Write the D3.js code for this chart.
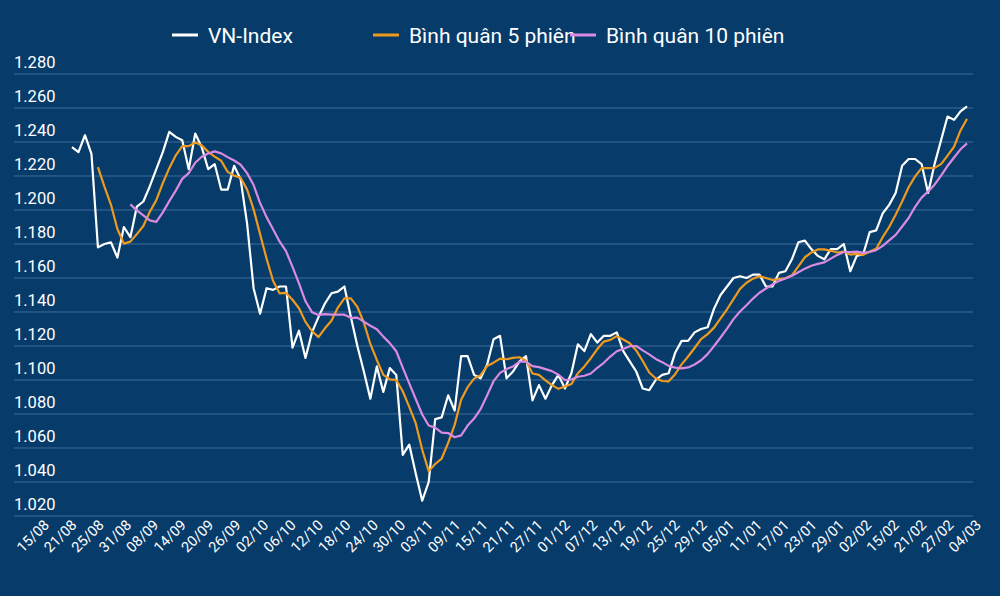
<!DOCTYPE html>
<html>
<head>
<meta charset="utf-8">
<script src="https://cdn.jsdelivr.net/npm/d3@7"></script>
<style>
  body { margin: 0; background: #063b6a; }
  svg { display: block; font-family: Roboto, "Noto Sans", sans-serif; }
</style>
</head>
<body>
<svg id="chart" width="1000" height="596"></svg>
<script>
// VN-Index closing values (one per session)
const vnIndex = [
  1.237, 1.234, 1.244, 1.233, 1.178, 1.180, 1.181, 1.172, 1.190, 1.184,
  1.202, 1.205, 1.214, 1.224, 1.234, 1.246, 1.243, 1.241, 1.224, 1.245,
  1.237, 1.224, 1.227, 1.212, 1.212, 1.226, 1.218, 1.192, 1.154, 1.139,
  1.154, 1.153, 1.155, 1.155, 1.119, 1.129, 1.113, 1.128, 1.137, 1.145,
  1.151, 1.152, 1.155, 1.137, 1.120, 1.105, 1.089, 1.108, 1.093, 1.107,
  1.103, 1.056, 1.062, 1.045, 1.029, 1.040, 1.077, 1.078, 1.091, 1.082,
  1.114, 1.114, 1.103, 1.101, 1.109, 1.124, 1.126, 1.101, 1.105, 1.111,
  1.114, 1.088, 1.097, 1.089, 1.097, 1.103, 1.095, 1.104, 1.121, 1.117,
  1.127, 1.122, 1.126, 1.126, 1.128, 1.117, 1.111, 1.105, 1.095, 1.094,
  1.100, 1.103, 1.104, 1.116, 1.123, 1.123, 1.128, 1.130, 1.131, 1.142,
  1.150, 1.155, 1.160, 1.161, 1.160, 1.162, 1.162, 1.155, 1.155, 1.163,
  1.164, 1.171, 1.181, 1.182, 1.177, 1.173, 1.171, 1.177, 1.177, 1.180,
  1.164, 1.173, 1.174, 1.187, 1.188, 1.198, 1.203, 1.210, 1.226, 1.230,
  1.230, 1.227, 1.210, 1.227, 1.241, 1.255, 1.253, 1.258, 1.261
];

const dateLabels = [
  "15/08", "21/08", "25/08", "31/08", "08/09", "14/09", "20/09", "26/09",
  "02/10", "06/10", "12/10", "18/10", "24/10", "30/10", "03/11", "09/11",
  "15/11", "21/11", "27/11", "01/12", "07/12", "13/12", "19/12", "25/12",
  "29/12", "05/01", "11/01", "17/01", "23/01", "29/01", "02/02", "15/02",
  "21/02", "27/02", "04/03"
];

const yTicks = [1.02, 1.04, 1.06, 1.08, 1.10, 1.12, 1.14, 1.16, 1.18, 1.20, 1.22, 1.24, 1.26, 1.28];

const seriesNames = ["VN-Index", "Bình quân 5 phiên", "Bình quân 10 phiên"];
const seriesColors = ["#ffffff", "#ee9a1e", "#d98be0"];

// moving averages of the index over 5 and 10 sessions
function movingAvg(values, n) {
  return values.map((v, i) => i < n - 1 ? null : d3.mean(values.slice(i - n + 1, i + 1)));
}
const ma5 = movingAvg(vnIndex, 5);
const ma10 = movingAvg(vnIndex, 10);

const svg = d3.select("#chart");

const x = d3.scaleLinear().domain([0, vnIndex.length - 1]).range([72, 967]);
const y = d3.scaleLinear().domain([1.02, 1.28]).range([516, 74]);
const xLab = d3.scalePoint().domain(dateLabels).range([50, 982]);

// gridlines + y labels
const fmt = v => d3.format(".3f")(v).replace(".", ".");
svg.append("g").selectAll("line").data(yTicks).join("line")
  .attr("x1", 14).attr("x2", 973)
  .attr("y1", d => y(d)).attr("y2", d => y(d))
  .attr("stroke", "#3f6f9c").attr("stroke-width", 1.2);

svg.append("g").selectAll("text").data(yTicks).join("text")
  .attr("x", 14).attr("y", d => y(d) - 6)
  .attr("fill", "#fff").attr("font-size", 16.5)
  .text(d => fmt(d));

// x labels
svg.append("g").selectAll("text").data(dateLabels).join("text")
  .attr("transform", d => `translate(${xLab(d)},526) rotate(-45)`)
  .attr("text-anchor", "end")
  .attr("fill", "#fff").attr("font-size", 14.5)
  .text(d => d);

// lines
const line = d3.line()
  .defined(d => d != null)
  .x((d, i) => x(i))
  .y(d => y(d));

[vnIndex, ma5, ma10].forEach((s, k) => {
  svg.append("path").datum(s)
    .attr("d", line)
    .attr("fill", "none")
    .attr("stroke", seriesColors[k])
    .attr("stroke-width", 2.2)
    .attr("stroke-linejoin", "round");
});

// legend
const legendX = [172, 373, 570];
const legend = svg.append("g").selectAll("g").data(seriesNames).join("g")
  .attr("transform", (d, i) => `translate(${legendX[i]},35)`);
legend.append("line")
  .attr("x1", 0).attr("x2", 26)
  .attr("stroke", (d, i) => seriesColors[i]).attr("stroke-width", 3);
legend.append("text")
  .attr("x", 36).attr("y", 7.5)
  .attr("fill", "#fff").attr("font-size", 21)
  .text(d => d);
</script>
</body>
</html>
